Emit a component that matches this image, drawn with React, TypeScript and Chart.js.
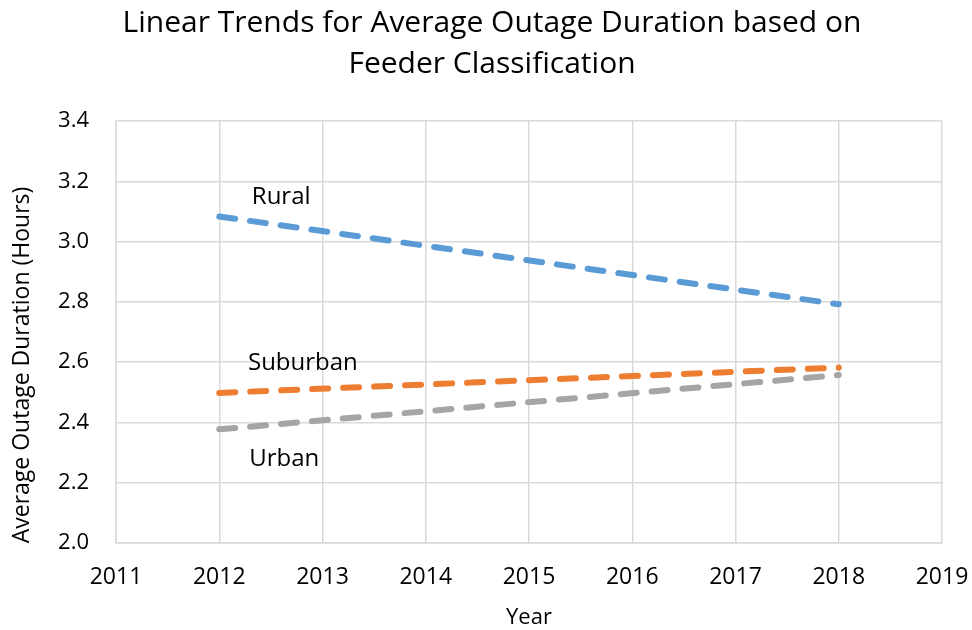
import React, { useEffect, useRef } from "react";
import { Chart, registerables } from "chart.js";

Chart.register(...registerables);

const titleLines = ["Linear Trends for Average Outage Duration based on", "Feeder Classification"];
const yAxisTitle = "Average Outage Duration (Hours)";
const xAxisTitle = "Year";
const trendYears = [2012, 2018];
const seriesNames = ["Rural", "Suburban", "Urban"];
const ruralTrend = [3.083, 2.792];
const suburbanTrend = [2.498, 2.582];
const urbanTrend = [2.377, 2.557];
const seriesColors = ["#5b9bd5", "#ed7d31", "#a5a5a5"];
// label anchor positions in data units [year, hours]
const labelYears = [2012.6, 2012.81, 2012.63];
const labelValues = [3.148, 2.597, 2.277];
const xMin = 2011, xMax = 2019;
const yMin = 2.0, yMax = 3.4, yStep = 0.2;

const FONT = "'Open Sans', 'Noto Sans', sans-serif";

export default function App() {
  const ref = useRef<HTMLCanvasElement | null>(null);
  useEffect(() => {
    document.body.style.margin = "0";
    const canvas = ref.current!;
    const seriesData = [ruralTrend, suburbanTrend, urbanTrend];
    const labelPlugin = {
      id: "labels",
      afterDatasetsDraw(chart: any) {
        const { ctx, scales } = chart;
        ctx.save();
        ctx.font = `24px ${FONT}`;
        ctx.fillStyle = "#000";
        ctx.textAlign = "center";
        ctx.textBaseline = "middle";
        seriesNames.forEach((n, i) => {
          ctx.fillText(n, scales.x.getPixelForValue(labelYears[i]), scales.y.getPixelForValue(labelValues[i]));
        });
        ctx.font = `30px ${FONT}`;
        titleLines.forEach((t, i) => {
          ctx.fillText(t, 492, 23 + i * 41);
        });
        ctx.font = `22px ${FONT}`;
        ctx.fillText(xAxisTitle, 529, 618);
        ctx.font = `23px ${FONT}`;
        ctx.translate(22, 365);
        ctx.rotate(-Math.PI / 2);
        ctx.fillText(yAxisTitle, 0, 0);
        ctx.restore();
      },
    };
    const chart = new Chart(canvas, {
      type: "line",
      data: {
        datasets: seriesNames.map((name, i) => ({
          label: name,
          data: trendYears.map((yr, j) => ({ x: yr, y: seriesData[i][j] })),
          borderColor: seriesColors[i],
          backgroundColor: seriesColors[i],
          borderWidth: 6,
          borderDash: [16, 15],
          borderCapStyle: "round",
          pointRadius: 0,
          tension: 0,
          fill: false,
        })),
      },
      options: {
        animation: false,
        responsive: false,
        layout: { padding: { top: 121, right: 30, left: 0, bottom: 0 }, autoPadding: false },
        plugins: { legend: { display: false }, title: { display: false }, tooltip: { enabled: false } },
        scales: {
          x: {
            type: "linear",
            min: xMin,
            max: xMax,
            ticks: { stepSize: 1, color: "#000", font: { family: FONT, size: 23 }, padding: 21, callback: (v: any) => String(v) },
            grid: { color: "#d9d9d9", lineWidth: 1.5, drawTicks: false },
            border: { color: "#d9d9d9", width: 1.5 },
            afterFit: (s: any) => { s.height = 87; s.paddingLeft = 0; s.paddingRight = 0; },
          },
          y: {
            min: yMin,
            max: yMax,
            ticks: { stepSize: yStep, color: "#000", font: { family: FONT, size: 22 }, padding: 27, callback: (v: any) => Number(v).toFixed(1) },
            grid: { color: "#d9d9d9", lineWidth: 1.5, drawTicks: false },
            border: { color: "#d9d9d9", width: 1.5 },
            afterFit: (s: any) => { s.width = 116; s.paddingTop = 0; s.paddingBottom = 0; },
          },
        },
      } as any,
      plugins: [labelPlugin],
    });
    return () => chart.destroy();
  }, []);
  return (
    <div style={{ width: 972, height: 630 }}>
      <canvas ref={ref} width={972} height={630} />
    </div>
  );
}
